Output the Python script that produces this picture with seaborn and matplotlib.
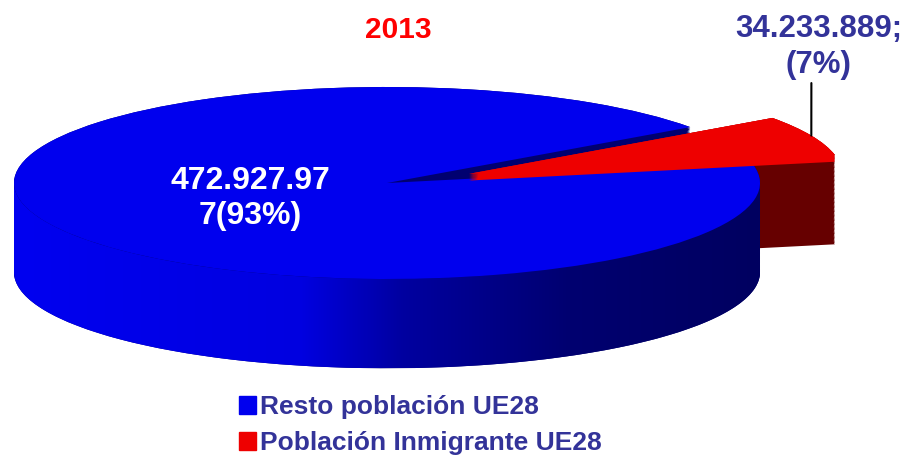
import numpy as np
import matplotlib
matplotlib.use("Agg")
import matplotlib.pyplot as plt
from matplotlib.colors import LinearSegmentedColormap
from matplotlib.patches import Polygon, Rectangle
import seaborn as sns

year = "2013"
categories = ["Resto población UE28", "Población Inmigrante UE28"]
population = [472927977, 34233889]
value_labels = ["472.927.97\n7(93%)", "34.233.889;\n(7%)"]

top_colors = ["#0000ee", "#ee0000"]
side_colors = ["#000070", "#660000"]
text_blue = "#333399"

sns.set_style("white")
plt.rcParams["font.family"] = ["Liberation Sans", "DejaVu Sans"]
plt.rcParams["font.weight"] = "bold"

fig = plt.figure(figsize=(9.05, 4.57), dpi=100)
ax = fig.add_axes([0, 0, 1, 1])

depth = 0.93
explode = [0, 0.24]
start = 11.3
n_layers = 70

# fake 3d: stack copies of the pie downwards for the sides
for k in np.linspace(depth, 0, n_layers):
    wedges, _ = ax.pie(population, colors=side_colors, explode=explode,
                       startangle=start, counterclock=False, center=(0, -k),
                       wedgeprops={"linewidth": 0})
    wedges[0].set_zorder(2)
    wedges[1].set_zorder(1)

# shaded front side of the big slice
theta = np.linspace(np.pi, 2 * np.pi, 200)
side = np.column_stack([np.r_[np.cos(theta), np.cos(theta[::-1])],
                        np.r_[np.sin(theta), np.sin(theta[::-1]) - depth]])
shade = LinearSegmentedColormap.from_list(
    "shade", [(0, "#0000f0"), (0.385, "#0000e0"), (0.52, "#0000a0"),
              (0.745, "#000070"), (1, "#000060")])
im = ax.imshow(np.linspace(0, 1, 256)[None, :], cmap=shade, aspect="auto",
               extent=[-1, 1, -1 - depth, 0.1], zorder=2.5)
im.set_clip_path(Polygon(side, transform=ax.transData))

# red top face is a little thick so it sits over the blue edge
for k in np.linspace(0.07, 0, 8):
    layer, _ = ax.pie(population, colors=top_colors, explode=explode,
                      startangle=start, counterclock=False, center=(0, -k),
                      wedgeprops={"linewidth": 0})
    layer[0].set_visible(False)
    layer[1].set_zorder(5)

# top faces
tops, _ = ax.pie(population, colors=top_colors, explode=explode,
                 startangle=start, counterclock=False,
                 wedgeprops={"linewidth": 0})
tops[0].set_zorder(3)
tops[1].set_zorder(5)

# value labels
w = tops[0]
mid = np.deg2rad((w.theta1 + w.theta2) / 2)
ax.text(0.4 * np.cos(mid), 0.4 * np.sin(mid), value_labels[0], color="white",
        fontsize=23, fontweight="bold", ha="center", va="center", zorder=6,
        linespacing=1.2)

w = tops[1]
mid = np.deg2rad((w.theta1 + w.theta2) / 2)
cx, cy = w.center
tip = (cx + np.cos(mid), cy + np.sin(mid))
ax.annotate(value_labels[1], xy=tip, xytext=(tip[0] + 0.019, 1.42),
            color=text_blue, fontsize=22.5, fontweight="bold",
            ha="center", va="center", zorder=6, linespacing=1.27,
            arrowprops=dict(arrowstyle="-", color="black", lw=1.5,
                            relpos=(0.458, 0), shrinkA=0, shrinkB=0))

fig.text(398 / 905, 1 - 30 / 457, year, color="#ff0000", fontsize=21.5,
         fontweight="bold", ha="center", va="center")

handles = [Rectangle((0, 0), 1, 1, color=c) for c in top_colors]
fig.legend(handles, categories, loc="upper left",
           bbox_to_anchor=(239 / 905, 1 - 395 / 457), frameon=False,
           borderpad=0, borderaxespad=0, handlelength=0.65, handleheight=0.65,
           handletextpad=0.15, labelspacing=0.47, labelcolor=text_blue,
           prop={"size": 19, "weight": "bold"})

ax.set_aspect("auto")
ax.set_xlim(-387 / 373, (905 - 387) / 373)
ax.set_ylim(-(457 - 183) / 96, 183 / 96)
ax.axis("off")

fig.savefig("out.png", dpi=100)
